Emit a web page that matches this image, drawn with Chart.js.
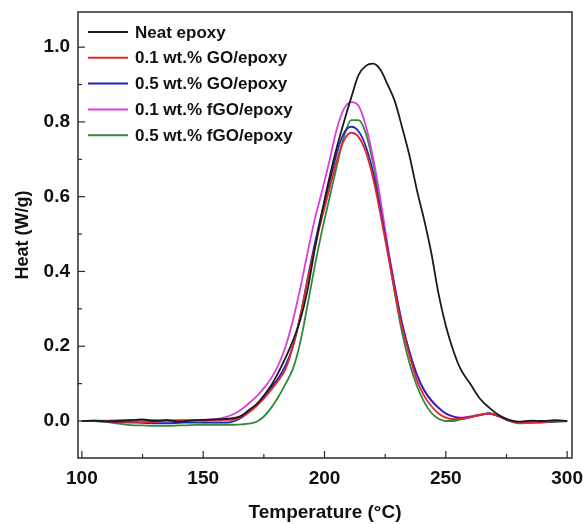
<!DOCTYPE html>
<html>
<head>
<meta charset="utf-8">
<script src="https://cdn.jsdelivr.net/npm/chart.js@4.4.1/dist/chart.umd.min.js"></script>
<style>
  html, body { margin: 0; padding: 0; background: #fff; }
</style>
</head>
<body>
<canvas id="chart" width="583" height="524"></canvas>
<script>
// temperature grid (°C)
const temps = [100,105,110,115,120,125,130,135,140,145,150,155,160,163,166,169,172,175,178,181,184,187,190,193,196,199,202,205,208,211,214,217,220,223,226,229,232,235,238,241,244,247,250,253,256,260,264,268,272,276,280,285,290,295,300];

// heat flow (W/g)
const neat = [0.0,0.001,-0.001,0.0,0.002,0.004,0.0,0.002,-0.002,0.001,0.003,0.004,0.006,0.008,0.015,0.03,0.045,0.068,0.095,0.13,0.17,0.215,0.27,0.35,0.46,0.56,0.65,0.73,0.8,0.865,0.925,0.95,0.956,0.94,0.9,0.855,0.785,0.71,0.62,0.54,0.45,0.34,0.255,0.19,0.14,0.1,0.06,0.035,0.015,0.003,-0.002,0.001,0.0,0.002,0.0];
const go01 = [0.0,0.001,0.0,-0.002,-0.002,-0.003,-0.002,0.001,0.0,0.002,0.001,0.003,0.003,0.004,0.012,0.024,0.04,0.06,0.083,0.108,0.14,0.2,0.28,0.375,0.465,0.545,0.62,0.695,0.75,0.771,0.76,0.72,0.65,0.555,0.45,0.345,0.25,0.175,0.11,0.068,0.04,0.02,0.009,0.005,0.006,0.01,0.016,0.02,0.012,0.001,-0.004,-0.004,-0.002,-0.001,0.0];
const go05 = [0.0,0.0,-0.001,-0.003,-0.004,-0.005,-0.006,-0.006,-0.005,-0.004,-0.004,-0.004,-0.004,0.0,0.01,0.025,0.042,0.065,0.09,0.115,0.15,0.2,0.28,0.38,0.475,0.56,0.635,0.715,0.77,0.787,0.775,0.735,0.665,0.565,0.46,0.355,0.26,0.185,0.125,0.083,0.055,0.035,0.02,0.012,0.008,0.011,0.016,0.02,0.012,0.002,-0.003,-0.003,-0.002,-0.001,0.0];
const fgo01 = [0.0,0.0,0.001,0.002,0.003,0.002,0.003,0.002,0.003,0.003,0.003,0.005,0.012,0.02,0.032,0.048,0.066,0.088,0.114,0.15,0.2,0.27,0.355,0.45,0.54,0.615,0.695,0.78,0.835,0.853,0.843,0.79,0.705,0.595,0.47,0.36,0.26,0.185,0.125,0.083,0.055,0.035,0.02,0.012,0.009,0.012,0.017,0.02,0.012,0.002,-0.004,-0.004,-0.002,0.0,0.0];
const fgo05 = [0.0,0.0,-0.002,-0.007,-0.011,-0.012,-0.013,-0.013,-0.012,-0.011,-0.01,-0.01,-0.01,-0.01,-0.009,-0.007,-0.002,0.012,0.035,0.065,0.1,0.14,0.21,0.31,0.415,0.51,0.595,0.68,0.76,0.805,0.805,0.77,0.69,0.58,0.46,0.34,0.235,0.155,0.095,0.052,0.022,0.006,0.0,0.0,0.004,0.01,0.016,0.02,0.012,0.0,-0.006,-0.005,-0.004,-0.002,-0.001];

const labels = ['Neat epoxy', '0.1 wt.% GO/epoxy', '0.5 wt.% GO/epoxy', '0.1 wt.% fGO/epoxy', '0.5 wt.% fGO/epoxy'];
const colors = ['#1b1b1b', '#e3262c', '#2228b4', '#dc3ce0', '#2f8a3c'];
const series = [neat, go01, go05, fgo01, fgo05];

const xTicks = [100, 150, 200, 250, 300];
const yTicks = [0.0, 0.2, 0.4, 0.6, 0.8, 1.0];

const FONT = '"Liberation Sans", Arial, sans-serif';

// box, inward ticks and legend
const decor = {
  id: 'decor',
  afterDraw(chart) {
    const c = chart.ctx;
    const a = chart.chartArea;
    const xs = chart.scales.x, ys = chart.scales.y;
    c.save();
    c.strokeStyle = '#2b2b2b';
    c.lineWidth = 1.5;
    c.strokeRect(a.left, a.top, a.right - a.left, a.bottom - a.top);
    c.lineWidth = 1.2;
    for (let t = 100; t <= 300; t += 25) {
      const px = xs.getPixelForValue(t);
      const len = t % 50 === 0 ? 7 : 4;
      c.beginPath(); c.moveTo(px, a.bottom); c.lineTo(px, a.bottom - len); c.stroke();
    }
    for (let i = -1; i <= 10; i++) {
      const v = i / 10;
      const py = ys.getPixelForValue(v);
      if (py < a.top || py > a.bottom) continue;
      const len = i % 2 === 0 ? 7 : 4;
      c.beginPath(); c.moveTo(a.left, py); c.lineTo(a.left + len, py); c.stroke();
    }
    // legend
    c.font = 'bold 17px ' + FONT;
    c.textBaseline = 'middle';
    chart.data.datasets.forEach((ds, i) => {
      const y = a.top + 20 + i * 25.8;
      c.strokeStyle = ds.borderColor;
      c.lineWidth = 2;
      c.beginPath(); c.moveTo(a.left + 10, y); c.lineTo(a.left + 50, y); c.stroke();
      c.fillStyle = '#111';
      c.fillText(ds.label, a.left + 57, y + 1);
    });
    c.restore();
  }
};

new Chart(document.getElementById('chart'), {
  type: 'line',
  data: {
    datasets: series.map((s, i) => ({
      label: labels[i],
      data: temps.map((t, j) => ({ x: t, y: s[j] })),
      borderColor: colors[i],
      borderWidth: 1.8,
      pointRadius: 0,
      cubicInterpolationMode: 'monotone',
      fill: false
    }))
  },
  options: {
    responsive: false,
    animation: false,
    devicePixelRatio: 1,
    layout: { padding: { left: 0, top: 12, right: 11, bottom: 0 } },
    plugins: { legend: { display: false }, tooltip: { enabled: false } },
    scales: {
      x: {
        type: 'linear',
        min: 98.4,
        max: 302,
        grid: { display: false, drawTicks: false },
        border: { display: false },
        afterBuildTicks: s => { s.ticks = xTicks.map(v => ({ value: v })); },
        afterFit: s => { s.height = 66; s.paddingLeft = 0; s.paddingRight = 0; },
        ticks: { color: '#111', font: { family: FONT, size: 19, weight: 'bold' }, padding: 9, maxRotation: 0 },
        title: { display: true, text: 'Temperature (°C)', color: '#111', font: { family: FONT, size: 19, weight: 'bold' }, padding: { top: 0, bottom: 0 } }
      },
      y: {
        min: -0.099,
        max: 1.094,
        grid: { display: false, drawTicks: false },
        border: { display: false },
        afterBuildTicks: s => { s.ticks = yTicks.map(v => ({ value: v })); },
        afterFit: s => { s.width = 78; s.paddingTop = 0; s.paddingBottom = 0; },
        ticks: { color: '#111', font: { family: FONT, size: 19, weight: 'bold' }, padding: 8, callback: v => v.toFixed(1) },
        title: { display: true, text: 'Heat (W/g)', color: '#111', font: { family: FONT, size: 18, weight: 'bold' }, padding: { top: 12, bottom: 0 } }
      }
    }
  },
  plugins: [decor]
});
</script>
</body>
</html>
